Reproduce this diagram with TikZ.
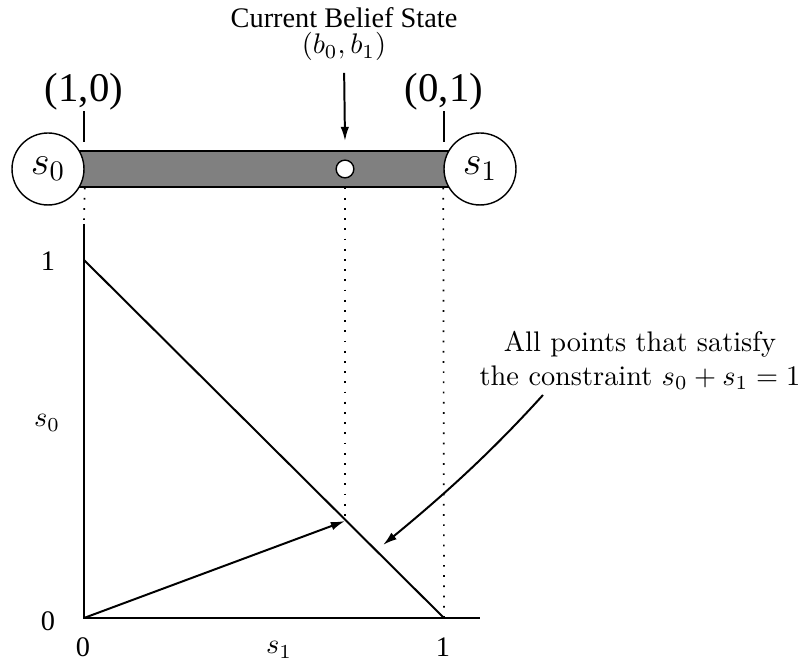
\documentclass[tikz,border=0pt]{standalone}
\usepackage{fontspec}
\newfontfamily\timesfont{Liberation Serif}
\usetikzlibrary{arrows.meta}

\begin{document}
\begin{tikzpicture}[
  x=0.0124cm, y=-0.0124cm,
  every node/.style={inner sep=0},
  state/.style={circle, draw, fill=white, line width=0.5pt, minimum size=0.893cm, font=\Large},
  bar/.style={draw, fill=gray, line width=0.5pt, minimum width=5.357cm, minimum height=0.446cm},
  point/.style={circle, draw, fill=white, line width=0.5pt, minimum size=0.22cm},
  axis/.style={line width=0.7pt},
  arr/.style={-{Latex[length=5pt,width=3pt]}, line width=0.7pt},
  dots/.style={line width=0.6pt, dash pattern=on 0.6pt off 3pt},
  big/.style={font=\timesfont\Large}
]
\useasboundingbox (0,0) rectangle (800,664);

% the belief simplex on top
\node[bar] (bar) at (264,169) {};
\node[state] (s0) at (48,169) {$s_0$};
\node[state] (s1) at (480,169) {$s_1$};
\node[point] (b) at (345,169) {};

\node[big] (p10) at (84,92) {(1,0)};
\node[big] (p01) at (444,92) {(0,1)};
\coordinate (t0) at (84,142);
\coordinate (t1) at (444,142);
\draw[line width=0.5pt] (p10.south) -- (t0);
\draw[line width=0.5pt] (p01.south) -- (t1);

\node[anchor=base, font=\timesfont] (cbs) at (344,28) {Current Belief State};
\node[anchor=base] (bval) at (344,54) {$(b_0,b_1)$};
\coordinate (bin) at (345,141);
\draw[arr, shorten <=4pt] (bval.south) -- (bin);

% the plane below
\coordinate (O) at (84,618);
\coordinate (ytop) at (84,224);
\coordinate (xend) at (480,618);
\coordinate (y1) at (84,260);
\coordinate (x1) at (444,618);
\coordinate (bp) at (345,521);

\draw[axis] (ytop) -- (O) -- (xend);
\draw[axis] (y1) -- (x1);
\draw[arr] (O) -- (bp);

\draw[dots] (s0.east |- bar.south) -- (ytop);
\draw[dots] (b |- bar.south) -- (bp);
\draw[dots] (s1.west |- bar.south) -- (x1);

\node[font=\timesfont] (ly1) at (48,261) {1};
\node[font=\timesfont] (ly0) at (48,621) {0};
\node (ls0) at (47,423) {$s_0$};
\node[font=\timesfont] (lx0) at (83,647) {0};
\node (ls1) at (279,650) {$s_1$};
\node[font=\timesfont] (lx1) at (443,647) {1};

\node[align=center] (note) at (640,360) {All points that satisfy\\the constraint $s_0+s_1=1$};
\coordinate (cs) at (543,395);
\coordinate (ce) at (383,545);
\draw[arr] (cs) .. controls (495,448) and (450,490) .. (ce);
\end{tikzpicture}
\end{document}
